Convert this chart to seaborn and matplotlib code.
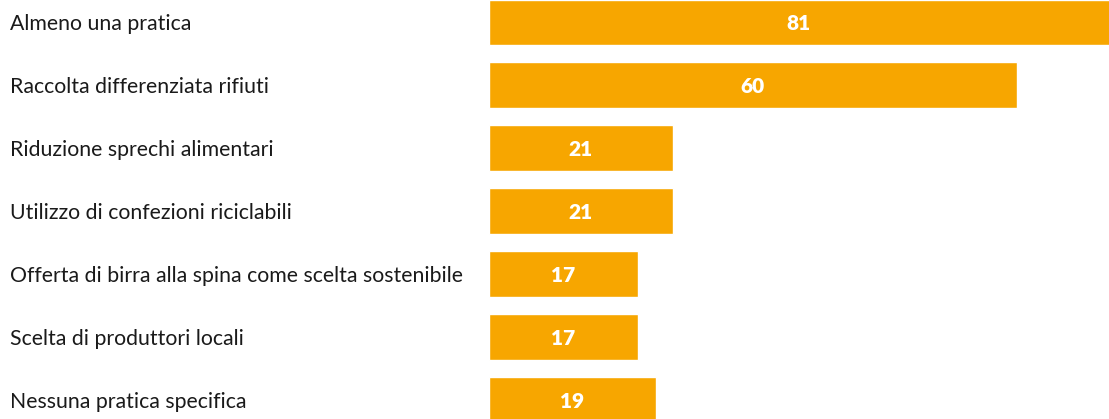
import matplotlib
matplotlib.use("Agg")
import matplotlib.pyplot as plt
import matplotlib.transforms as mtransforms
import seaborn as sns
import pandas as pd

categories = [
    "Almeno una pratica",
    "Raccolta differenziata rifiuti",
    "Riduzione sprechi alimentari",
    "Utilizzo di confezioni riciclabili",
    "Offerta di birra alla spina come scelta sostenibile",
    "Scelta di produttori locali",
    "Nessuna pratica specifica",
]
values = [81, 60, 21, 21, 17, 17, 19]

df = pd.DataFrame({"categoria": categories, "valore": values})

sns.set_theme(style="white")
plt.rcParams["font.family"] = ["Lato", "DejaVu Sans"]

BAR_COLOR = "#F7A600"
XMAX = 70.5

fig = plt.figure(figsize=(11.09, 4.19), dpi=100)
ax = fig.add_axes([488.5 / 1109, 0, 1 - 488.5 / 1109, 1])

sns.barplot(data=df, y="categoria", x="valore", orient="h", color=BAR_COLOR,
            width=0.73, saturation=1, ax=ax)

ax.set_xlim(0, XMAX)
ax.set_ylim(6.30, -0.358)
ax.set_xlabel("")
ax.set_ylabel("")
ax.set_xticks([])
ax.set_yticks([])
for s in ax.spines.values():
    s.set_visible(False)

trans = mtransforms.blended_transform_factory(fig.transFigure, ax.transData)
for i, (cat, v) in enumerate(zip(categories, values)):
    ax.text(10 / 1109, i + 0.03, cat, transform=trans, ha="left", va="center",
            fontsize=15.3, color="#1a1a1a", clip_on=False)
    ax.text(min(v, XMAX) / 2, i + 0.02, str(v), ha="center", va="center",
            fontsize=15, fontweight="heavy", color="white")

fig.savefig("out.png", dpi=100)
